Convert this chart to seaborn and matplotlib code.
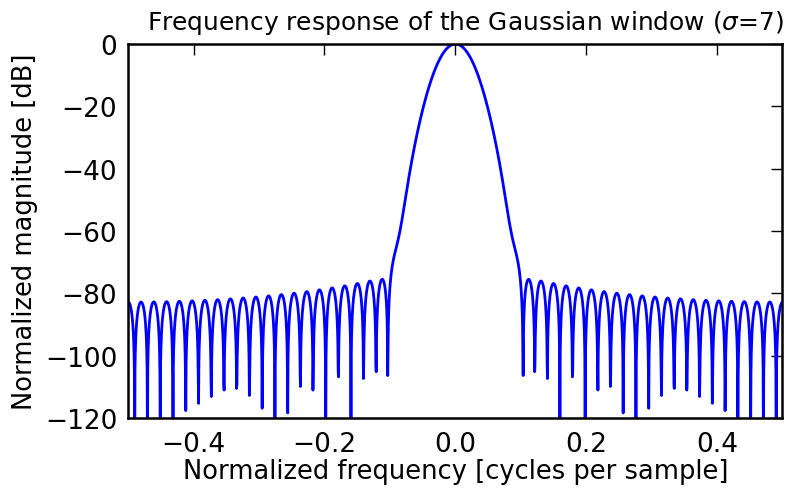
import numpy as np
import pandas as pd
import matplotlib
matplotlib.use("Agg")
import matplotlib.pyplot as plt
import seaborn as sns

# Gaussian window parameters
window_length = 51
sigma = 7
fft_length = 2048

xticks = [-0.4, -0.2, 0.0, 0.2, 0.4]
yticks = [-120, -100, -80, -60, -40, -20, 0]

# Build the window and its normalized magnitude response
n = np.arange(window_length) - (window_length - 1) / 2.0
window = np.exp(-0.5 * (n / sigma) ** 2)
A = np.fft.fft(window, fft_length) / (len(window) / 2.0)
freq = np.linspace(-0.5, 0.5, len(A))
with np.errstate(divide="ignore"):
    response = 20 * np.log10(np.abs(np.fft.fftshift(A / np.abs(A).max())))

df = pd.DataFrame({"freq": freq, "response": response})

sns.set_style("white")
plt.rcParams["font.family"] = ["DejaVu Sans"]
plt.rcParams["mathtext.fontset"] = "dejavusans"
plt.rcParams["text.color"] = "black"
plt.rcParams["axes.labelcolor"] = "black"
plt.rcParams["xtick.color"] = "black"
plt.rcParams["ytick.color"] = "black"

fig = plt.figure(figsize=(7.87, 4.89), dpi=100)
ax = fig.add_axes([0.163, 0.143, 0.831, 0.765])

sns.lineplot(data=df, x="freq", y="response", ax=ax, color="#0000ff", linewidth=2)

ax.set_xlim(-0.5, 0.5)
ax.set_ylim(-120, 0)
ax.set_xticks(xticks)
ax.set_yticks(yticks)
ax.set_xticklabels([f"{t:.1f}".replace("-", "\u2212") for t in xticks])
ax.set_yticklabels([str(t).replace("-", "\u2212") for t in yticks])

tick_fs = 19
label_fs = 18.5
ax.tick_params(axis="x", which="both", direction="in", length=8, width=1,
               top=True, labelsize=tick_fs, pad=9, colors="black")
ax.tick_params(axis="y", which="both", direction="in", length=8, width=1,
               right=True, labelsize=tick_fs, pad=8, colors="black")
for s in ax.spines.values():
    s.set_linewidth(1.8)
    s.set_color("black")

ax.set_title(r"Frequency response of the Gaussian window ($\sigma$=7)",
             fontsize=17.9, pad=11, x=0.515)
ax.set_ylabel("Normalized magnitude [dB]", fontsize=label_fs, labelpad=5)
ax.set_xlabel("Normalized frequency [cycles per sample]", fontsize=label_fs, labelpad=1)

fig.savefig("out.png", dpi=100)
